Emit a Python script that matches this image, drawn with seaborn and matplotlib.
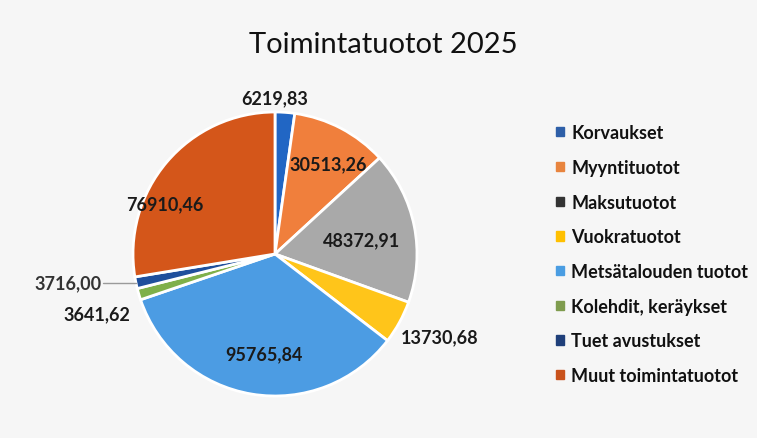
import numpy as np
import matplotlib.pyplot as plt
import seaborn as sns

# data
categories = ["Korvaukset", "Myyntituotot", "Maksutuotot", "Vuokratuotot",
              "Metsätalouden tuotot", "Kolehdit, keräykset", "Tuet avustukset",
              "Muut toimintatuotot"]
values = [6219.83, 30513.26, 48372.91, 13730.68, 95765.84, 3641.62, 3716.00, 76910.46]
value_labels = ["6219,83", "30513,26", "48372,91", "13730,68",
                "95765,84", "3641,62", "3716,00", "76910,46"]

colors = ["#2166c4", "#f07f3c", "#a9a9a9", "#ffc51a",
          "#4c9ce3", "#7fb04a", "#1f4f9c", "#d4561a"]
legend_colors = ["#2e5fa8", "#e8843e", "#333333", "#ffc000",
                 "#4a9de2", "#7f9c4e", "#1f3f7a", "#c9521b"]

# label layout: radial distance (in pie radii) and angle nudge (deg, ccw)
label_r = [1.10, 0.74, 0.62, 1.30, 0.71, 1.32, 1.0, 0.85]
label_nudge = [4, -3, -2, 2, 3, 2, 0, 16]
leader_len = 0.22

sns.set_theme(style="white")
plt.rcParams['font.family'] = ['Lato', 'DejaVu Sans']

W, H = 757, 439
fig = plt.figure(figsize=(W / 100, H / 100), dpi=100)
fig.patch.set_facecolor("#f6f6f6")

cx, cy, R = 275, 255, 142
box = 300
ax = fig.add_axes([(cx - box / 2) / W, (H - cy - box / 2) / H, box / W, box / H])
ax.axis("off")

r = R / (box / 2)
wedges, _ = ax.pie(values, colors=colors, startangle=90, counterclock=False,
                   radius=r, wedgeprops=dict(edgecolor="white", linewidth=2))
ax.set_xlim(-1, 1)
ax.set_ylim(-1, 1)
ax.set_aspect("equal")

for i, w in enumerate(wedges):
    mid = np.deg2rad((w.theta1 + w.theta2) / 2 + label_nudge[i])
    x, y = label_r[i] * r * np.cos(mid), label_r[i] * r * np.sin(mid)
    if categories[i] == "Tuet avustukset":
        # horizontal leader line to the left of the thin slice
        ax.plot([x - leader_len, x], [y, y], color="#9a9a9a", lw=1, clip_on=False)
        ax.text(x - leader_len - 0.01, y, value_labels[i], ha="right", va="center",
                fontsize=13, fontweight="bold", color="#333333", clip_on=False)
    else:
        ax.text(x, y, value_labels[i], ha="center", va="center", fontsize=13,
                fontweight="bold", color="#1a1a1a", clip_on=False)

fig.text(383 / W, 1 - 45 / H, "Toimintatuotot 2025", ha="center", va="center",
         fontsize=21, color="#111111")

handles = [plt.Rectangle((0, 0), 1, 1, color=c) for c in legend_colors]
leg = fig.legend(handles, categories, loc="upper left",
                 bbox_to_anchor=(540 / W, 1 - 109 / H), frameon=False,
                 handlelength=0.42, handleheight=0.42, handletextpad=0.4,
                 labelspacing=0.98, prop=dict(size=13, weight="bold"))
for t in leg.get_texts():
    t.set_color("#111111")

fig.savefig("out.png", dpi=100, facecolor=fig.get_facecolor())
